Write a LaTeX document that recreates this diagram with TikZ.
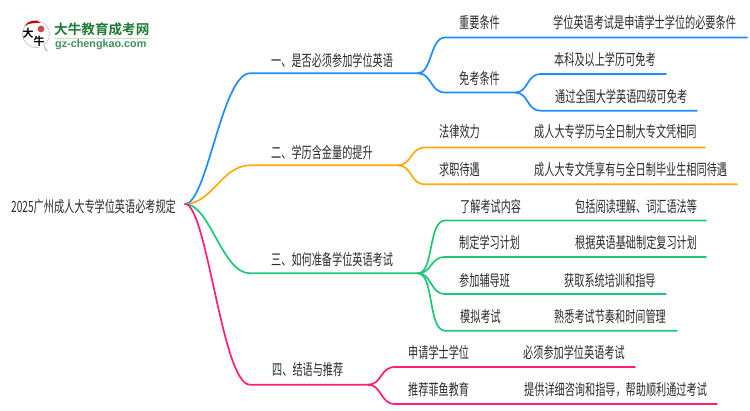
\documentclass[tikz,border=0pt]{standalone}
\usepackage{fontspec}
\setmainfont{Noto Sans CJK SC}[FakeStretch=0.655]
\newfontfamily\logofont{Noto Sans CJK SC Bold}
\newfontfamily\logolat{Liberation Sans Bold}
\definecolor{cblue}{HTML}{1E8CFF}
\definecolor{corange}{HTML}{FFAA0A}
\definecolor{cgreen}{HTML}{1EC878}
\definecolor{cpink}{HTML}{FF1E78}
\definecolor{ctext}{HTML}{2A2A2A}
\definecolor{clogo}{HTML}{1F7A35}
\tikzset{
  txt/.style={anchor=west,inner sep=0pt,text=ctext,font=\fontsize{15.5pt}{16pt}\selectfont},
  conn/.style={line width=1.7pt,line cap=round,line join=round},
  bb/.style={conn,draw=cblue},
  oo/.style={conn,draw=corange},
  gg/.style={conn,draw=cgreen},
  pp/.style={conn,draw=cpink}
}
\begin{document}
\begin{tikzpicture}[x=1pt,y=-1pt]
\useasboundingbox (0,0) rectangle (750,410);
% logo
\fill[white,draw=black!25,line width=0.6pt] (36,34) circle (13.5);
\fill[black!25] (39,46) -- (48,52) -- (44,44) -- cycle;
\fill[white] (37,45.5) -- (45,49.5) -- (43,43) -- cycle;
\fill[red!80!black] (24.5,26) .. controls (28,20) and (37,19) .. (41,23) .. controls (36,22.5) and (29,23) .. (24.5,26) -- cycle;
\fill[red!70!black,opacity=.7] (41,29) circle (3.4);
\node[inner sep=0pt,font=\logofont\fontsize{11pt}{11pt}\selectfont,text=black] (logoa) at (28,33) {大};
\node[inner sep=0pt,font=\logofont\fontsize{11pt}{11pt}\selectfont,text=black] (logob) at (39,41) {牛};
\node[anchor=west,inner sep=0pt,font=\logofont\fontsize{13.6pt}{14pt}\selectfont,text=clogo] (logoc) at (54,29.5) {大牛教育成考网};
\draw[clogo!25,line width=1pt] (54,38.5) -- (150,38.5);
\node[anchor=west,inner sep=0pt,font=\logolat\fontsize{10.8pt}{11pt}\selectfont,text=clogo!85] (logod) at (55,45) {gz-chengkao.com};
% anchors
\coordinate (r) at (185,204);
\coordinate (b1) at (250,73.3); \coordinate (b1f) at (418,73.3);
\coordinate (b2) at (250,165.3); \coordinate (b2f) at (398,165.3);
\coordinate (b3) at (250,273.3); \coordinate (b3f) at (418,273.3);
\coordinate (b4) at (250,384.7); \coordinate (b4f) at (368,384.7);
% blue
\draw[bb] (r) .. controls (207,204) and (222,73.3) .. (b1) -- (b1f);
\coordinate (a1) at (445,37.5); \coordinate (a1e) at (747,37.5);
\coordinate (a2) at (445,92.5); \coordinate (a2f) at (515,92.5);
\coordinate (a3) at (541,74); \coordinate (a3e) at (666,74);
\coordinate (a4) at (541,110.7); \coordinate (a4e) at (697,110.7);
\draw[bb] (b1f) .. controls (432,73.3) and (430,37.5) .. (a1) -- (a1e);
\draw[bb] (b1f) .. controls (432,73.3) and (430,92.5) .. (a2) -- (a2f);
\draw[bb] (a2f) .. controls (529,92.5) and (526,74) .. (a3) -- (a3e);
\draw[bb] (a2f) .. controls (529,92.5) and (526,110.7) .. (a4) -- (a4e);
% orange
\draw[oo] (r) .. controls (212,204) and (222,165.3) .. (b2) -- (b2f);
\coordinate (c1) at (425,147.5); \coordinate (c1e) at (705,147.5);
\coordinate (c2) at (425,184.3); \coordinate (c2e) at (737,184.3);
\draw[oo] (b2f) .. controls (412,165.3) and (410,147.5) .. (c1) -- (c1e);
\draw[oo] (b2f) .. controls (412,165.3) and (410,184.3) .. (c2) -- (c2e);
% green
\draw[gg] (r) .. controls (210,204) and (222,273.3) .. (b3) -- (b3f);
\coordinate (d1) at (445,220.5); \coordinate (d1e) at (706,220.5);
\coordinate (d2) at (445,257); \coordinate (d2e) at (706,257);
\coordinate (d3) at (445,294); \coordinate (d3e) at (666,294);
\coordinate (d4) at (445,330.7); \coordinate (d4e) at (677,330.7);
\draw[gg] (b3f) .. controls (434,273.3) and (428,220.5) .. (d1) -- (d1e);
\draw[gg] (b3f) .. controls (432,273.3) and (430,257) .. (d2) -- (d2e);
\draw[gg] (b3f) .. controls (432,273.3) and (430,294) .. (d3) -- (d3e);
\draw[gg] (b3f) .. controls (434,273.3) and (428,330.7) .. (d4) -- (d4e);
% pink
\draw[pp] (r) .. controls (207,204) and (222,384.7) .. (b4) -- (b4f);
\coordinate (e1) at (395,367); \coordinate (e1e) at (635,367);
\coordinate (e2) at (395,404); \coordinate (e2e) at (717,404);
\draw[pp] (b4f) .. controls (382,384.7) and (380,367) .. (e1) -- (e1e);
\draw[pp] (b4f) .. controls (382,384.7) and (380,404) .. (e2) -- (e2e);
% text
\node[txt] (root) at (11,207) {2025广州成人大专学位英语必考规定};
\node[txt] (t1) at (271,60.5) {一、是否必须参加学位英语};
\node[txt] (t11) at (459,23) {重要条件};
\node[txt] (t11a) at (553,23) {学位英语考试是申请学士学位的必要条件};
\node[txt] (t12) at (459,79) {免考条件};
\node[txt] (t12a) at (554,60) {本科及以上学历可免考};
\node[txt] (t12b) at (555,97) {通过全国大学英语四级可免考};
\node[txt] (t2) at (271,152.5) {二、学历含金量的提升};
\node[txt] (t21) at (439,132) {法律效力};
\node[txt] (t21a) at (534,132) {成人大专学历与全日制大专文凭相同};
\node[txt] (t22) at (439,170) {求职待遇};
\node[txt] (t22a) at (534,170) {成人大专文凭享有与全日制毕业生相同待遇};
\node[txt] (t3) at (271,260) {三、如何准备学位英语考试};
\node[txt] (t31) at (460,207) {了解考试内容};
\node[txt] (t31a) at (575,207) {包括阅读理解、词汇语法等};
\node[txt] (t32) at (459,243) {制定学习计划};
\node[txt] (t32a) at (575,243) {根据英语基础制定复习计划};
\node[txt] (t33) at (459,281) {参加辅导班};
\node[txt] (t33a) at (564,281) {获取系统培训和指导};
\node[txt] (t34) at (460,317) {模拟考试};
\node[txt] (t34a) at (554,317) {熟悉考试节奏和时间管理};
\node[txt] (t4) at (272,370) {四、结语与推荐};
\node[txt] (t41) at (408,353) {申请学士学位};
\node[txt] (t41a) at (523,353) {必须参加学位英语考试};
\node[txt] (t42) at (408,390) {推荐菲鱼教育};
\node[txt] (t42a) at (524,390) {提供详细咨询和指导，帮助顺利通过考试};
\end{tikzpicture}
\end{document}
